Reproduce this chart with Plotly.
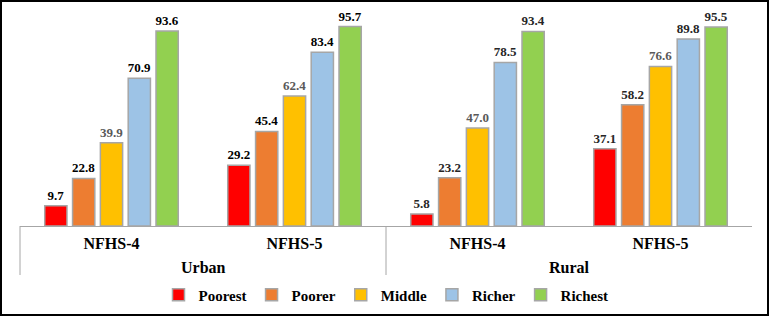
import plotly.graph_objects as go

areas = ["Urban", "Rural"]
surveys = ["NFHS-4", "NFHS-5", "NFHS-4", "NFHS-5"]
series_names = ["Poorest", "Poorer", "Middle", "Richer", "Richest"]
poorest = [9.7, 29.2, 5.8, 37.1]
poorer = [22.8, 45.4, 23.2, 58.2]
middle = [39.9, 62.4, 47.0, 76.6]
richer = [70.9, 83.4, 78.5, 89.8]
richest = [93.6, 95.7, 93.4, 95.5]
values = [poorest, poorer, middle, richer, richest]
colors = ["#FF0000", "#ED7D31", "#FFC000", "#9DC3E6", "#92D050"]
label_colors = [
    ["#000000", "#000000", "#262626", "#262626"],
    ["#000000", "#000000", "#262626", "#262626"],
    ["#595959", "#595959", "#595959", "#595959"],
    ["#000000", "#000000", "#262626", "#262626"],
    ["#000000", "#000000", "#262626", "#262626"],
]

# unique category keys (area + survey), shown with survey tick text
cat_keys = [f"{a} {s}" for a in areas for s in ["NFHS-4", "NFHS-5"]]

SERIF = "Liberation Serif"
W, H = 770, 317
L, R, T, B = 20, 18, 17, 91
pw, ph = W - L - R, H - T - B

fig = go.Figure()
for name, vals, col, lc in zip(series_names, values, colors, label_colors):
    fig.add_trace(go.Bar(
        name=name,
        x=cat_keys,
        y=vals,
        marker=dict(color=col, line=dict(color="#A6A6A6", width=1.5)),
        text=[f"{v:.1f}" for v in vals],
        textposition="outside",
        constraintext="none",
        cliponaxis=False,
        textfont=dict(family=SERIF, size=13, color=lc, weight="bold"),
    ))

def px_x(p):
    return (p - L) / pw

def px_y(p):
    return (H - B - p) / ph

shapes = [
    dict(type="rect", xref="paper", yref="paper",
         x0=px_x(1), x1=px_x(768), y0=px_y(315), y1=px_y(1),
         line=dict(color="#000000", width=2)),
    dict(type="line", xref="paper", yref="paper",
         x0=0, x1=0, y0=0, y1=px_y(275), line=dict(color="#A6A6A6", width=1)),
    dict(type="line", xref="paper", yref="paper",
         x0=0.5, x1=0.5, y0=0, y1=px_y(275), line=dict(color="#A6A6A6", width=1)),
]

annotations = [
    dict(text=a, x=0.5 + 2 * i, xref="x", y=px_y(267), yref="paper",
         showarrow=False, xanchor="center", yanchor="middle",
         font=dict(family=SERIF, size=16, color="#000000", weight="bold"))
    for i, a in enumerate(areas)
]

fig.update_layout(
    width=W, height=H,
    margin=dict(l=L, r=R, t=T, b=B, autoexpand=False),
    plot_bgcolor="white", paper_bgcolor="white",
    barmode="group", bargap=0.24, bargroupgap=0.2,
    font=dict(family=SERIF, color="#000000"),
    showlegend=True,
    legend=dict(orientation="h", x=0.5, xanchor="center", y=px_y(295), yanchor="middle",
                font=dict(family=SERIF, size=15, color="#000000", weight="bold"),
                itemwidth=30, traceorder="normal"),
    shapes=shapes,
    annotations=annotations,
    xaxis=dict(type="category", showline=True, automargin=False,
               linecolor="#A6A6A6", linewidth=1, ticks="",
               tickmode="array", tickvals=cat_keys, ticktext=surveys,
               ticklabelstandoff=3,
               tickfont=dict(family=SERIF, size=16, color="#000000", weight="bold")),
    yaxis=dict(range=[0, 100.3], visible=False, showgrid=False, automargin=False),
)

fig.write_html("out.html", config={"displayModeBar": False},
               post_script="document.body.style.margin='0';document.body.style.overflow='hidden';")
